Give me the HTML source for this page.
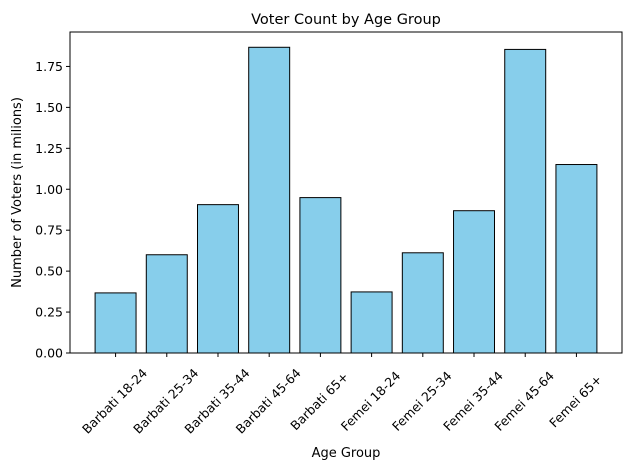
<!DOCTYPE html>
<html><head><meta charset="utf-8"><style>
body{margin:0;background:#fff}
svg text{font-family:"DejaVu Sans","Liberation Sans",sans-serif;fill:#000}
</style></head><body>
<svg width="630" height="470" xmlns="http://www.w3.org/2000/svg">
<g id="plot"></g>
</svg>
<script>
const categories=["Barbati 18-24","Barbati 25-34","Barbati 35-44","Barbati 45-64","Barbati 65+","Femei 18-24","Femei 25-34","Femei 35-44","Femei 45-64","Femei 65+"];
const values=[0.367,0.600,0.906,1.867,0.949,0.373,0.612,0.869,1.854,1.151];
const yTicks=[0,0.25,0.5,0.75,1.0,1.25,1.5,1.75];
const yTickLabels=["0.00","0.25","0.50","0.75","1.00","1.25","1.50","1.75"];
const L=70,R=622,T=32,B=353;
const ns="http://www.w3.org/2000/svg";
const g=document.getElementById('plot');
const n=categories.length;
const xmin=-0.4-0.05*(n-0.2),xmax=n-1+0.4+0.05*(n-0.2);
const ymax=Math.max(...values)*1.05;
function x(v){return L+(v-xmin)/(xmax-xmin)*(R-L);}
function y(v){return B-v/ymax*(B-T);}
function mk(t,a,txt){const e=document.createElementNS(ns,t);for(const k in a)e.setAttribute(k,a[k]);if(txt!==undefined)e.textContent=txt;g.appendChild(e);return e;}
values.forEach((v,i)=>{
const r=mk('rect',{x:x(i-0.4),y:y(v),width:x(i+0.4)-x(i-0.4),height:B-y(v),fill:'#87ceeb',stroke:'#000','stroke-width':1});


const tk=mk('line',{x1:x(i),x2:x(i),y1:B,y2:B+4,stroke:'#000'});


const cx=x(i)-1,cy=401;
const t=mk('text',{x:cx,y:cy+4.5,'font-size':12.5,'text-anchor':'middle',transform:`rotate(-45 ${cx} ${cy})`},categories[i]);


});
yTicks.forEach((v,i)=>{
const tk=mk('line',{x1:L-4,x2:L,y1:y(v),y2:y(v),stroke:'#000'});


const t=mk('text',{x:L-7,y:y(v)+4.5,'font-size':12.5,'text-anchor':'end'},yTickLabels[i]);


});
const fr=mk('rect',{x:L,y:T,width:R-L,height:B-T,fill:'none',stroke:'#000','stroke-width':1});


const ti=mk('text',{x:(L+R)/2,y:24,'font-size':14.5,'text-anchor':'middle'},'Voter Count by Age Group');


const xt=mk('text',{x:(L+R)/2,y:457,'font-size':13,'text-anchor':'middle'},'Age Group');


const yt=mk('text',{x:21,y:(T+B)/2,'font-size':13,'text-anchor':'middle',transform:`rotate(-90 21 ${(T+B)/2})`},'Number of Voters (in milions)');


</script>
</body></html>
